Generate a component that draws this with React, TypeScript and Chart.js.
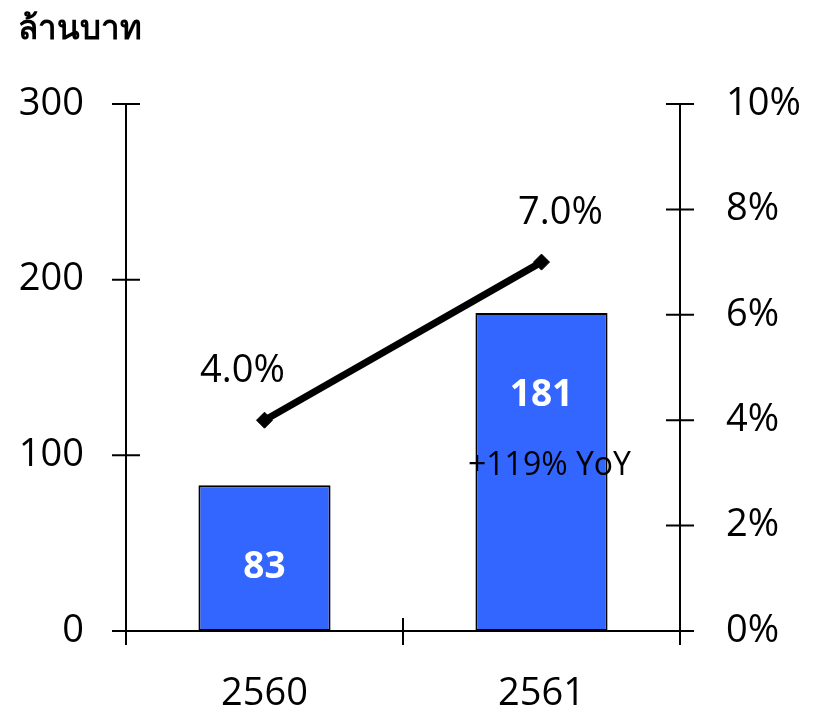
import React, { useEffect, useRef } from "react";
import { Chart, registerables } from "chart.js";

Chart.register(...registerables);

const categories = ["2560", "2561"];
const revenue = [83, 181];
const margin = [4.0, 7.0];
const revenueLabels = ["83", "181"];
const marginLabels = ["4.0%", "7.0%"];
const yoyNote = ["", "+119% YoY"];
const leftTicks = [0, 100, 200, 300];
const rightTicks = [0, 2, 4, 6, 8, 10];
const unitTitle = "ล้านบาท";

const FONT = "'Open Sans', 'Noto Sans', 'DejaVu Sans', sans-serif";

const axesPlugin = {
  id: "crossAxes",
  beforeDatasetsDraw(chart: any) {
    const ctx = chart.ctx;
    const { left, right, top, bottom } = chart.chartArea;
    const xs = chart.scales.x;
    const ys = chart.scales.y;
    const y1 = chart.scales.y1;
    const t = 14;
    ctx.save();
    ctx.strokeStyle = "#000";
    ctx.lineWidth = 2;
    ctx.beginPath();
    ctx.moveTo(left, top);
    ctx.lineTo(left, bottom + t);
    ctx.moveTo(right, top);
    ctx.lineTo(right, bottom + t);
    ctx.moveTo(left - t, bottom);
    ctx.lineTo(right + t, bottom);
    leftTicks.forEach((v) => {
      const p = ys.getPixelForValue(v);
      ctx.moveTo(left - t, p);
      ctx.lineTo(left + t, p);
    });
    rightTicks.forEach((v) => {
      const p = y1.getPixelForValue(v);
      ctx.moveTo(right - t, p);
      ctx.lineTo(right + t, p);
    });
    for (let i = 0; i <= categories.length; i++) {
      const p = xs.getPixelForValue(i - 0.5);
      ctx.moveTo(p, bottom - 13);
      ctx.lineTo(p, bottom + t);
    }
    ctx.stroke();
    ctx.restore();
  },
  afterDraw(chart: any) {
    const ctx = chart.ctx;
    ctx.save();
    ctx.fillStyle = "#000";
    ctx.font = `bold 33px ${FONT}`;
    ctx.textAlign = "left";
    ctx.textBaseline = "middle";
    ctx.fillText(unitTitle, 18, 30);

    const barMeta = chart.getDatasetMeta(0);
    barMeta.data.forEach((el: any, i: number) => {
      ctx.fillStyle = "#fff";
      ctx.font = `bold 37px ${FONT}`;
      ctx.textAlign = "center";
      ctx.textBaseline = "middle";
      ctx.fillText(revenueLabels[i], el.x, el.y + 82);
      if (yoyNote[i]) {
        ctx.fillStyle = "#000";
        ctx.font = `32px ${FONT}`;
        ctx.fillText(yoyNote[i], el.x + 8, el.y + 153);
      }
    });
    const lineMeta = chart.getDatasetMeta(1);
    const dx = [-22, 19];
    lineMeta.data.forEach((el: any, i: number) => {
      ctx.fillStyle = "#000";
      ctx.font = `38px ${FONT}`;
      ctx.textAlign = "center";
      ctx.textBaseline = "middle";
      ctx.fillText(marginLabels[i], el.x + dx[i], el.y - 49);
    });
    ctx.restore();
  },
};

export default function App() {
  const ref = useRef<HTMLCanvasElement | null>(null);
  useEffect(() => {
    document.body.style.margin = "0";
    const canvas = ref.current;
    if (!canvas) return;
    const chart = new Chart(canvas, {
      data: {
        labels: categories,
        datasets: [
          {
            type: "bar",
            data: revenue,
            yAxisID: "y",
            backgroundColor: "#3366FF",
            borderColor: "#000",
            borderWidth: 2,
            borderSkipped: false,
            categoryPercentage: 1,
            barPercentage: 0.477,
            order: 2,
          } as any,
          {
            type: "line",
            data: margin,
            yAxisID: "y1",
            borderColor: "#000",
            borderWidth: 7,
            pointStyle: "rectRot",
            pointRadius: 8,
            pointBackgroundColor: "#000",
            pointBorderColor: "#000",
            pointBorderWidth: 1,
            order: 1,
          } as any,
        ],
      },
      options: {
        animation: false,
        responsive: false,
        events: [],
        layout: { padding: { top: 104, left: 0, right: 0, bottom: 0 } },
        plugins: {
          legend: { display: false },
          tooltip: { enabled: false },
          title: { display: false },
        },
        scales: {
          x: {
            offset: true,
            grid: { display: false, drawTicks: false },
            border: { display: false },
            ticks: { font: { family: FONT, size: 38 }, color: "#000", padding: 40 },
            afterFit: (s: any) => {
              s.height = 86;
            },
          },
          y: {
            position: "left",
            min: 0,
            max: 300,
            afterBuildTicks: (s: any) => {
              s.ticks = leftTicks.map((v) => ({ value: v }));
            },
            grid: { display: false, drawTicks: false },
            border: { display: false },
            ticks: { font: { family: FONT, size: 38 }, color: "#000", padding: 42 },
            afterFit: (s: any) => {
              s.width = 126;
            },
          },
          y1: {
            position: "right",
            min: 0,
            max: 10,
            afterBuildTicks: (s: any) => {
              s.ticks = rightTicks.map((v) => ({ value: v }));
            },
            grid: { display: false, drawTicks: false },
            border: { display: false },
            ticks: {
              font: { family: FONT, size: 38 },
              color: "#000",
              padding: 46,
              callback: (v: any) => `${v}%`,
            },
            afterFit: (s: any) => {
              s.width = 137;
            },
          },
        },
      } as any,
      plugins: [axesPlugin],
    });
    return () => chart.destroy();
  }, []);
  return (
    <div style={{ width: 817, height: 717 }}>
      <canvas ref={ref} width={817} height={717} style={{ display: "block" }} />
    </div>
  );
}
